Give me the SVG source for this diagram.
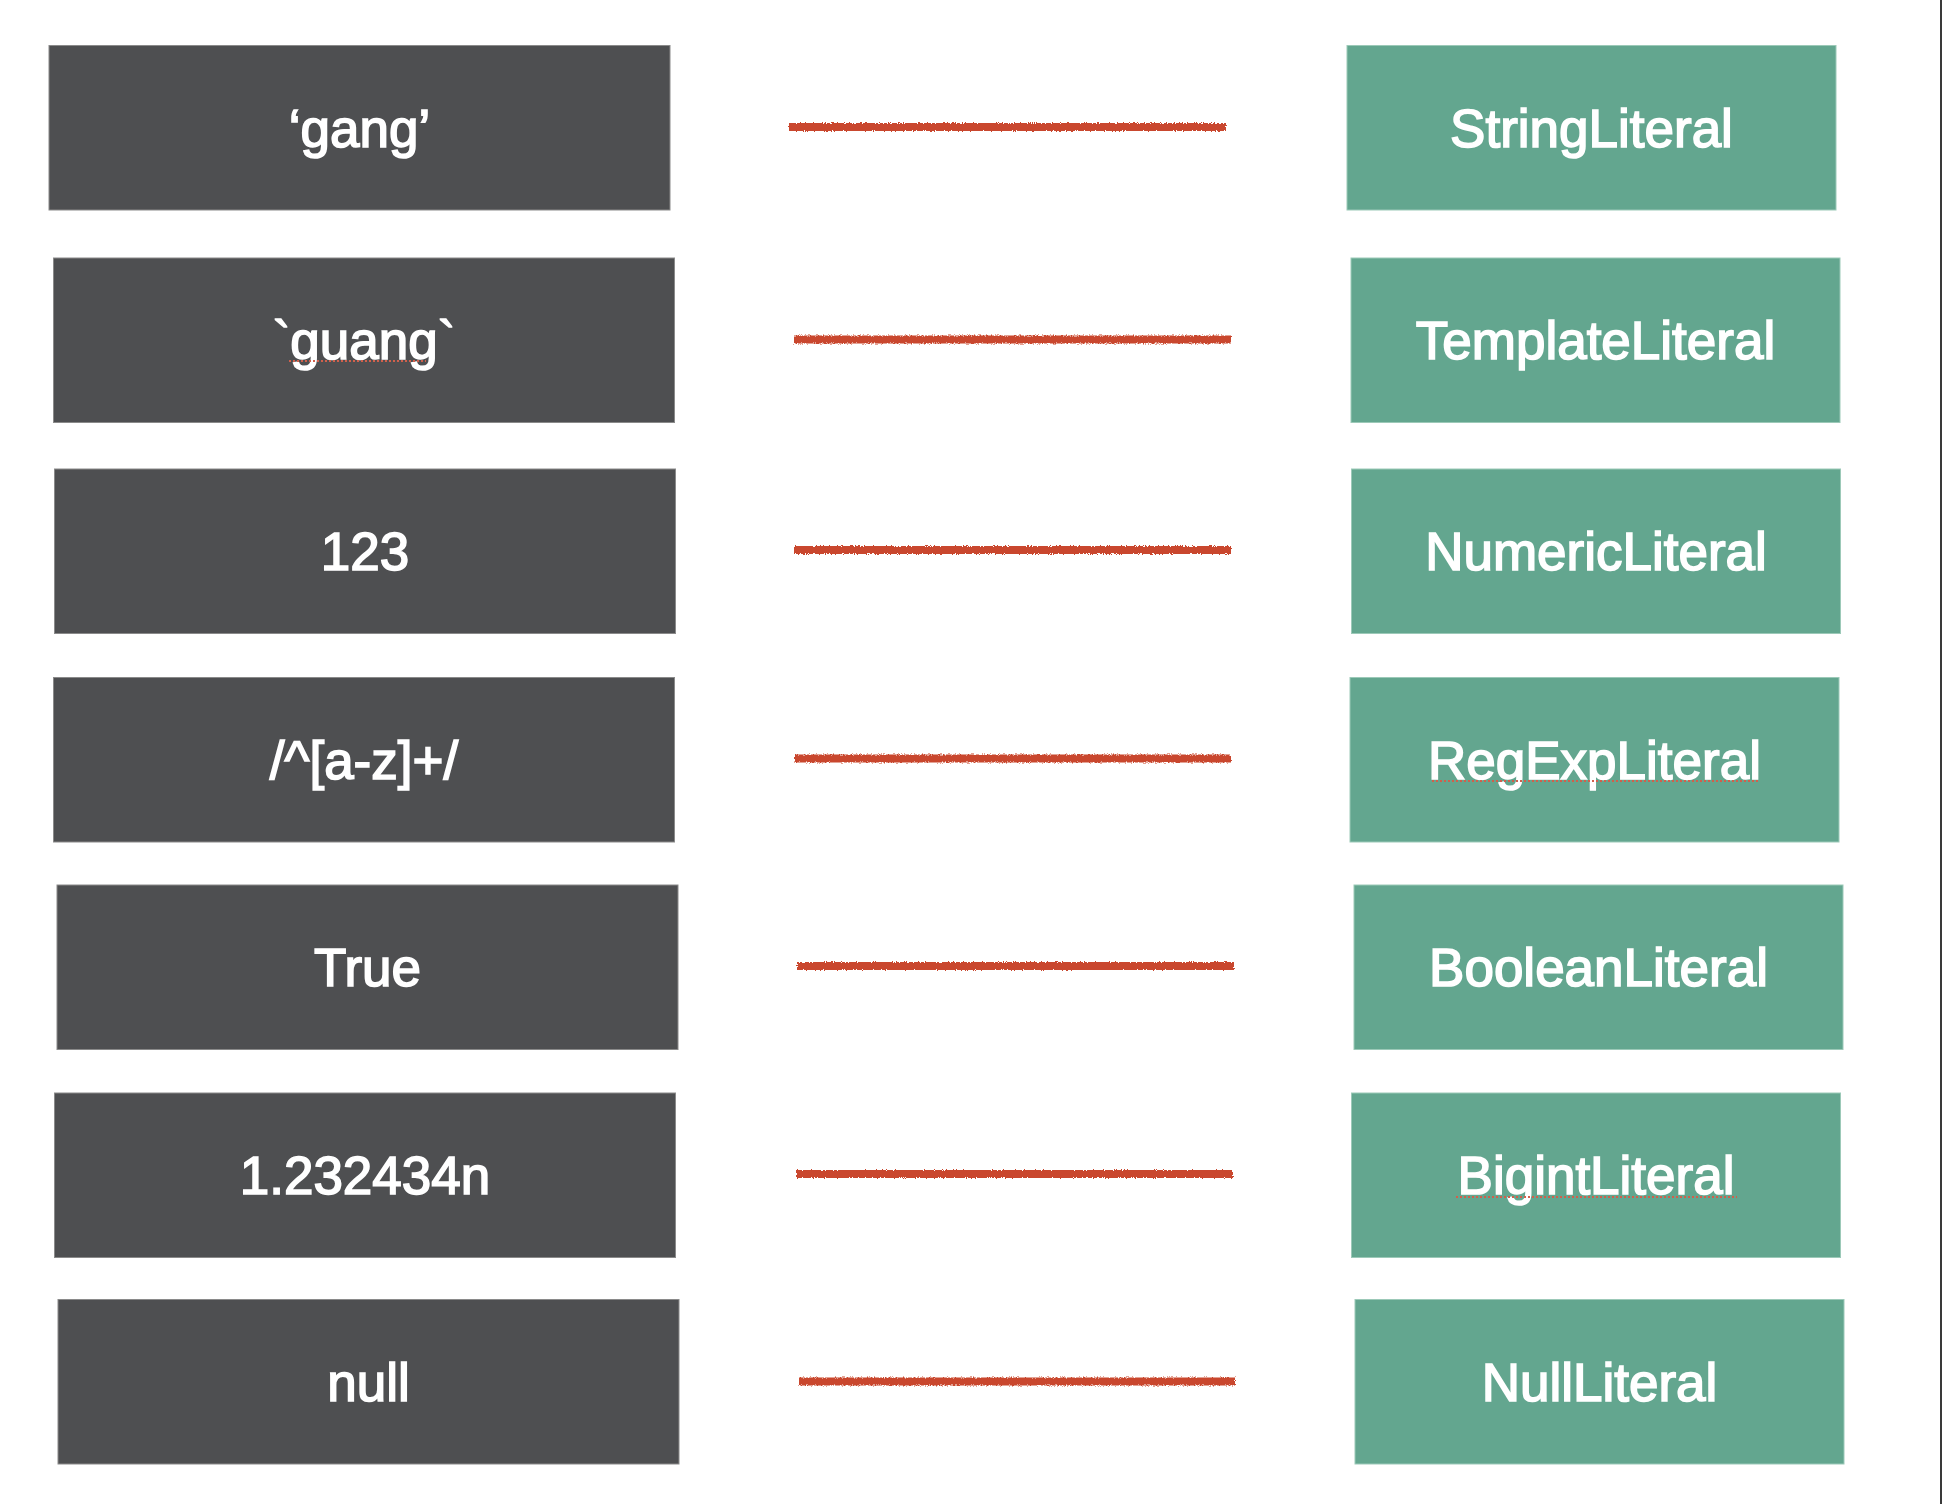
<svg xmlns="http://www.w3.org/2000/svg" width="1946" height="1504" viewBox="0 0 1946 1504">
  <defs>
    <!-- rough crayon-like edge for the connector strokes -->
    <filter id="crayon" filterUnits="userSpaceOnUse" x="0" y="0" width="1946" height="1504">
      <feTurbulence type="fractalNoise" baseFrequency="0.9" numOctaves="2" seed="3" result="noise"/>
      <feDisplacementMap in="SourceGraphic" in2="noise" scale="3.5" xChannelSelector="R" yChannelSelector="G"/>
    </filter>
  </defs>
  <style>
    .src rect { fill: #4e4f51; stroke: #8a8a8a; stroke-width: 1; }
    .ast rect { fill: #63a68f; stroke: #9cc9b8; stroke-width: 1; }
    text { font-family: "Liberation Sans", Arial, Helvetica, sans-serif; font-size: 53px; fill: #ffffff; stroke: #ffffff; stroke-width: 1.6; text-anchor: middle; }
    .link { stroke: #c9472f; stroke-width: 8; fill: none; filter: url(#crayon); }
    .spell { stroke: #d0604c; stroke-width: 2; stroke-dasharray: 2 2; fill: none; }
  </style>

  <rect width="1946" height="1504" fill="#ffffff"/>
  <!-- right page edge -->
  <line x1="1941" y1="0" x2="1941" y2="1504" stroke="#3a3a3a" stroke-width="2"/>

  <!-- source literals -->
  <g id="src-string" class="src">
    <rect x="49" y="45.5" width="621" height="164.5"/>
    <text x="359.5" y="146.5">‘gang’</text>
  </g>
  <g id="src-template" class="src">
    <rect x="53.5" y="258" width="621" height="164.5"/>
    <text x="364" y="359">`guang`</text>
    <line class="spell" x1="289" y1="361" x2="426" y2="361"/>
  </g>
  <g id="src-numeric" class="src">
    <rect x="54.5" y="469" width="621" height="164.5"/>
    <text x="365" y="570">123</text>
  </g>
  <g id="src-regexp" class="src">
    <rect x="53.5" y="677.5" width="621" height="164.5"/>
    <text x="364" y="778.5">/^[a-z]+/</text>
  </g>
  <g id="src-boolean" class="src">
    <rect x="57" y="885" width="621" height="164.5"/>
    <text x="367.5" y="986">True</text>
  </g>
  <g id="src-bigint" class="src">
    <rect x="54.5" y="1093" width="621" height="164.5"/>
    <text x="365" y="1194">1.232434n</text>
  </g>
  <g id="src-null" class="src">
    <rect x="58" y="1299.5" width="621" height="164.5"/>
    <text x="368.5" y="1400.5">null</text>
  </g>

  <!-- AST node types -->
  <g id="ast-string" class="ast">
    <rect x="1347" y="45.5" width="489" height="164.5"/>
    <text x="1591.5" y="146.5">StringLiteral</text>
  </g>
  <g id="ast-template" class="ast">
    <rect x="1351" y="258" width="489" height="164.5"/>
    <text x="1595.5" y="359">TemplateLiteral</text>
  </g>
  <g id="ast-numeric" class="ast">
    <rect x="1351.5" y="469" width="489" height="164.5"/>
    <text x="1596" y="570">NumericLiteral</text>
  </g>
  <g id="ast-regexp" class="ast">
    <rect x="1350" y="677.5" width="489" height="164.5"/>
    <text x="1594.5" y="778.5">RegExpLiteral</text>
    <line class="spell" x1="1432" y1="781" x2="1760" y2="781"/>
  </g>
  <g id="ast-boolean" class="ast">
    <rect x="1354" y="885" width="489" height="164.5"/>
    <text x="1598.5" y="986">BooleanLiteral</text>
  </g>
  <g id="ast-bigint" class="ast">
    <rect x="1351.5" y="1093" width="489" height="164.5"/>
    <text x="1596" y="1194">BigintLiteral</text>
    <line class="spell" x1="1456" y1="1197" x2="1737" y2="1197"/>
  </g>
  <g id="ast-null" class="ast">
    <rect x="1355" y="1299.5" width="489" height="164.5"/>
    <text x="1599.5" y="1400.5">NullLiteral</text>
  </g>

  <!-- connectors -->
  <g id="connectors">
    <line class="link" x1="789" y1="127" x2="1226" y2="127"/>
    <line class="link" x1="794" y1="339.5" x2="1231" y2="339.5"/>
    <line class="link" x1="794" y1="550" x2="1231" y2="550"/>
    <line class="link" x1="794" y1="758.5" x2="1231" y2="758.5"/>
    <line class="link" x1="797" y1="966" x2="1234" y2="966"/>
    <line class="link" x1="796" y1="1174" x2="1233" y2="1174"/>
    <line class="link" x1="799" y1="1381.5" x2="1235" y2="1381.5"/>
  </g>
</svg>
